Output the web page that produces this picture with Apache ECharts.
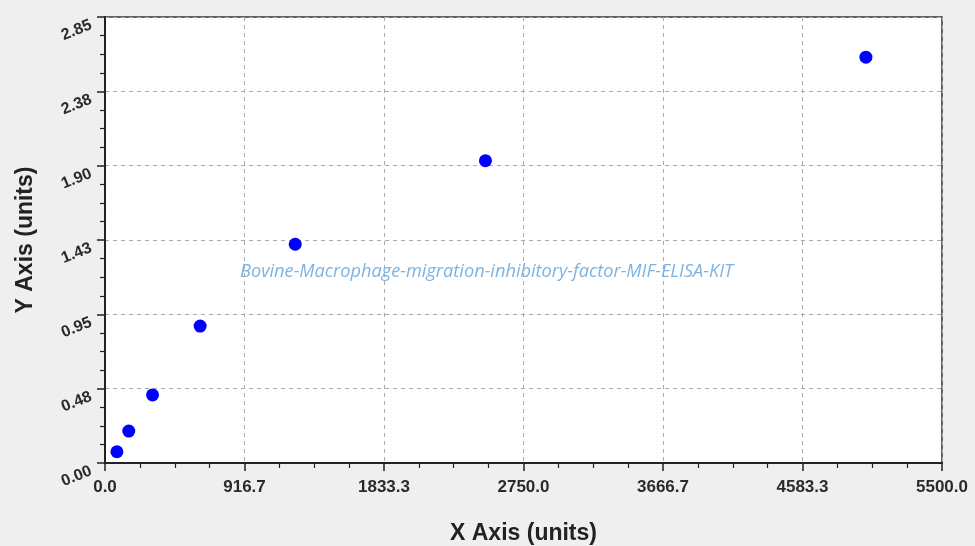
<!DOCTYPE html>
<html>
<head>
<meta charset="utf-8">
<script src="https://cdn.jsdelivr.net/npm/echarts@6/dist/echarts.min.js"></script>
<style>
html,body{margin:0;padding:0;background:#efefef;}
#chart{width:975px;height:546px;}
</style>
</head>
<body>
<div id="chart"></div>
<script>
const xValues = [78.125, 156.25, 312.5, 625, 1250, 2500, 5000];
const yValues = [0.072, 0.204, 0.435, 0.875, 1.398, 1.932, 2.593];
const xTickLabels = ["0.0", "916.7", "1833.3", "2750.0", "3666.7", "4583.3", "5500.0"];
const yTickLabels = ["0.00", "0.48", "0.95", "1.43", "1.90", "2.38", "2.85"];
const xName = "X Axis (units)";
const yName = "Y Axis (units)";
const watermark = "Bovine-Macrophage-migration-inhibitory-factor-MIF-ELISA-KIT";

const xMax = 5500, yMax = 2.85;
const xStep = xMax / 6, yStep = yMax / 6;

const chart = echarts.init(document.getElementById('chart'));
chart.setOption({
  backgroundColor: '#efefef',
  animation: false,
  grid: {
    left: 105, right: 33, top: 17, bottom: 83,
    outerBoundsMode: 'none', containLabel: false,
    show: true, backgroundColor: '#ffffff', borderColor: '#333', borderWidth: 1.5
  },
  xAxis: {
    type: 'value', min: 0, max: xMax, interval: xStep,
    name: xName, nameLocation: 'middle', nameGap: 59,
    nameTextStyle: { fontFamily: 'Liberation Sans', fontWeight: 'bold', fontSize: 23, color: '#222' },
    axisLine: { show: true, lineStyle: { color: '#222', width: 2 } },
    axisTick: { show: true, inside: false, length: 8, lineStyle: { color: '#222', width: 1.5 } },
    minorTick: { show: true, splitNumber: 4, length: 5, lineStyle: { color: '#222', width: 1.2 } },
    splitLine: { show: true, lineStyle: { color: '#aaa', type: [4, 4], width: 1 } },
    axisLabel: {
      margin: 16, fontFamily: 'Liberation Sans', fontWeight: 'bold', fontSize: 17, color: '#2a2a2a',
      formatter: v => xTickLabels[Math.round(v / xStep)]
    }
  },
  yAxis: {
    type: 'value', min: 0, max: yMax, interval: yStep,
    name: yName, nameLocation: 'middle', nameGap: 68,
    nameTextStyle: { fontFamily: 'Liberation Sans', fontWeight: 'bold', fontSize: 23, color: '#222' },
    axisLine: { show: true, lineStyle: { color: '#222', width: 2 } },
    axisTick: { show: true, inside: false, length: 8, lineStyle: { color: '#222', width: 1.5 } },
    minorTick: { show: true, splitNumber: 4, length: 5, lineStyle: { color: '#222', width: 1.2 } },
    splitLine: { show: true, lineStyle: { color: '#aaa', type: [4, 4], width: 1 } },
    axisLabel: {
      margin: 17, rotate: 22, verticalAlign: 'top', fontFamily: 'Liberation Sans', fontWeight: 'bold', fontSize: 16, color: '#2a2a2a',
      formatter: v => yTickLabels[Math.round(v / yStep)]
    }
  },
  graphic: [{
    type: 'text', left: 240, top: 263, z: 10,
    style: {
      text: watermark, fill: '#7db3e2',
      font: 'italic 18.2px "Open Sans"'
    }
  }],
  series: [{
    type: 'scatter',
    data: xValues.map((x, i) => [x, yValues[i]]),
    symbol: 'circle', symbolSize: 13,
    itemStyle: { color: '#0000ff', opacity: 1 }
  }]
});
</script>
</body>
</html>
